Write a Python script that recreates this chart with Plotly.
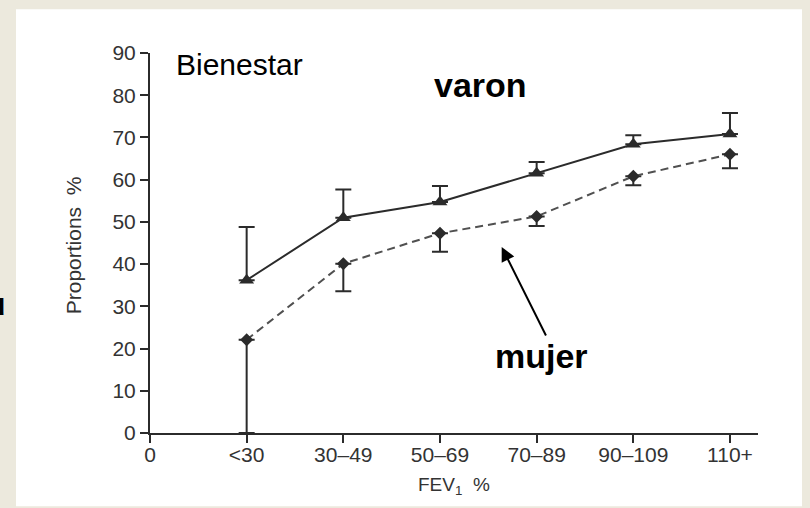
import plotly.graph_objects as go

# FEV1 bands on the x axis (position 0 carries the plain "0" tick)
categories = ["<30", "30–49", "50–69", "70–89", "90–109", "110+"]
x_ticktext = ["0"] + categories

# Proportion reporting well-being (%), by sex
varon = [36.2, 51.0, 54.7, 61.5, 68.4, 70.8]
varon_upper = [48.8, 57.7, 58.5, 64.2, 70.5, 75.8]
mujer = [22.1, 40.1, 47.3, 51.3, 60.8, 66.0]
mujer_lower = [0.0, 33.6, 42.9, 49.0, 58.7, 62.7]

y_ticks = [0, 10, 20, 30, 40, 50, 60, 70, 80, 90]

xpos = list(range(1, len(categories) + 1))
varon_plus = [u - v for u, v in zip(varon_upper, varon)]
mujer_minus = [v - l for v, l in zip(mujer, mujer_lower)]

W, H = 810, 508
L, R, T, B = 150, 52, 52.7, 75.3
pw, ph = W - L - R, H - T - B


def px(xp):
    return (xp - L) / pw


def py(yp):
    return (H - B - yp) / ph


sans = "Liberation Sans, Arial, sans-serif"
ink = "#2b2b2b"

fig = go.Figure()

# women: dashed line, diamonds, lower error bars only
fig.add_trace(go.Scatter(
    x=xpos, y=mujer, mode="lines+markers", name="mujer",
    line=dict(color="#505050", width=2, dash="8px,5px"),
    marker=dict(symbol="diamond", size=10, color=ink),
    error_y=dict(type="data", symmetric=False, array=[0] * len(mujer),
                 arrayminus=mujer_minus, color=ink, thickness=2, width=8),
    cliponaxis=False, showlegend=False,
))

# men: solid line, triangles, upper error bars only
fig.add_trace(go.Scatter(
    x=xpos, y=varon, mode="lines+markers", name="varon",
    line=dict(color=ink, width=2),
    marker=dict(symbol="triangle-up", size=13, color=ink),
    error_y=dict(type="data", symmetric=False, array=varon_plus,
                 arrayminus=[0] * len(varon), color=ink, thickness=2, width=8),
    cliponaxis=False, showlegend=False,
))

fig.update_xaxes(
    range=[0, 6.29], tickmode="array", tickvals=list(range(len(x_ticktext))),
    ticktext=x_ticktext, showline=True, linecolor=ink, linewidth=2,
    ticks="outside", ticklen=8, tickwidth=2, tickcolor=ink,
    showgrid=False, zeroline=False, ticklabelstandoff=-6,
    tickfont=dict(family=sans, size=21, color="#333333"),
)
fig.update_yaxes(
    range=[0, 90], tickmode="array", tickvals=y_ticks,
    showline=True, linecolor=ink, linewidth=2,
    ticks="outside", ticklen=8, tickwidth=2, tickcolor=ink,
    showgrid=False, zeroline=False,
    tickfont=dict(family=sans, size=21, color="#333333"),
)

annotations = [
    dict(text="Proportions  %", x=px(73), y=py(245), textangle=-90,
         font=dict(family=sans, size=21, color="#333333")),
    dict(text="FEV<sub>1</sub>  %", x=px(454), y=py(486),
         font=dict(family=sans, size=19, color="#333333")),
    dict(text="Bienestar", x=px(174), y=py(64), xanchor="left",
         font=dict(family=sans, size=30, color="#000000")),
    dict(text="<b>varon</b>", x=px(480), y=py(85),
         font=dict(family=sans, size=34, color="#000000")),
    dict(text="<b>mujer</b>", x=px(541), y=py(356),
         font=dict(family=sans, size=34, color="#000000")),
    dict(text="<b>u</b>", x=px(8), y=py(304), xanchor="right",
         font=dict(family=sans, size=32, color="#000000")),
    # pointer from the "mujer" label up to the dashed line
    dict(text="", x=px(501.7), y=py(246.7), showarrow=True,
         ax=45, ay=90, arrowhead=2, arrowsize=1.4, arrowwidth=2,
         arrowcolor="#000000", standoff=0),
]
for a in annotations:
    a.setdefault("xref", "paper")
    a.setdefault("yref", "paper")
    a.setdefault("showarrow", False)
    a.setdefault("xanchor", "center")
    a.setdefault("yanchor", "middle")

fig.update_layout(
    width=W, height=H,
    margin=dict(l=L, r=R, t=T, b=B, pad=0),
    paper_bgcolor="#ECE9DD",
    plot_bgcolor="#FFFFFF",
    annotations=annotations,
    shapes=[dict(type="rect", xref="paper", yref="paper", layer="below",
                 x0=px(16), x1=px(802), y0=py(506), y1=py(9),
                 fillcolor="#FFFFFF", line=dict(width=0))],
)

fig.write_html("out.html")
